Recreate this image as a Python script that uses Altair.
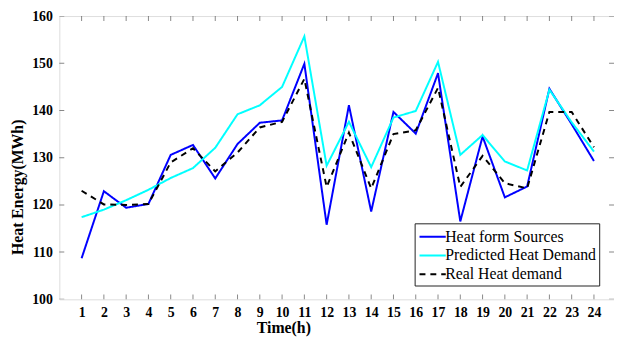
import altair as alt
import pandas as pd

hours = list(range(1, 25))
heat_sources = [108.7, 122.9, 119.4, 120.2, 130.6, 132.7, 125.6, 132.9, 137.4, 137.9, 149.9, 115.8,
                141.1, 118.6, 139.7, 135.1, 147.9, 116.5, 134.5, 121.6, 123.9, 144.6, 137.1, 129.3]
predicted = [117.4, 119.0, 121.0, 123.2, 125.7, 127.8, 132.1, 139.2, 141.1, 145.0, 155.7, 128.3,
             137.6, 128.0, 138.5, 139.9, 150.3, 130.6, 134.8, 129.2, 127.3, 144.4, 137.5, 131.3]
real = [123.0, 120.1, 120.0, 120.2, 129.0, 132.0, 127.1, 131.1, 136.4, 137.6, 146.7, 123.8,
        135.3, 123.5, 135.0, 135.8, 144.8, 123.8, 130.4, 124.6, 123.5, 139.7, 139.7, 132.2]
series_names = ["Heat form Sources", "Predicted Heat Demand", "Real Heat demand"]
y_ticks = [100, 110, 120, 130, 140, 150, 160]

rows = []
for name, vals in zip(series_names, [heat_sources, predicted, real]):
    for h, v in zip(hours, vals):
        rows.append({"series": name, "hour": h, "value": v})
df = pd.DataFrame(rows)

W, H = 562, 287
FONT = "Liberation Serif"

xscale = alt.Scale(domain=[0, 24.9], nice=False, zero=False)
yscale = alt.Scale(domain=[100, 160], nice=False, zero=False)

xaxis = alt.Axis(values=hours, title="Time(h)", ticks=False, domain=False, grid=False,
                 labelPadding=6, labelFontSize=14, labelFontWeight="bold", labelFont=FONT,
                 labelOverlap=False, labelColor="#000000", labelBound=False,
                 titleFont=FONT, titleFontSize=16, titleFontWeight="bold", titleColor="#000000",
                 titleX=227, titleY=34, titleBaseline="alphabetic", labelFlush=False)
yaxis = alt.Axis(values=y_ticks, title="Heat Energy(MWh)", ticks=False, domain=False, grid=False,
                 labelPadding=7, labelFontSize=14, labelFontWeight="bold", labelFont=FONT,
                 labelOverlap=False, labelColor="#000000",
                 titleFont=FONT, titleFontSize=16, titleFontWeight="bold", titleColor="#000000",
                 titleY=173, titleX=-37, titleAlign="center", titleBaseline="alphabetic",
                 labelFlush=False)

lines = alt.Chart(df).mark_line(strokeWidth=2).encode(
    x=alt.X("hour:Q", scale=xscale, axis=xaxis),
    y=alt.Y("value:Q", scale=yscale, axis=yaxis),
    color=alt.Color("series:N", scale=alt.Scale(domain=series_names, range=["#0000ff", "#00ffff", "#000000"]),
                    legend=alt.Legend(title=None, orient="none", legendX=360, legendY=210,
                                      symbolType="M-0.9,0H1.9", symbolStrokeWidth=2, symbolSize=361,
                                      labelFont=FONT, labelFontSize=16, labelLimit=300, labelColor="#000000",
                                      strokeColor="#222222", padding=3, rowPadding=0,
                                      fillColor="white", labelOffset=7)),
    strokeDash=alt.StrokeDash("series:N", scale=alt.Scale(domain=series_names, range=[[1, 0], [1, 0], [6, 5]]),
                              legend=None),
)

xt = pd.DataFrame({"hour": hours})
yt = pd.DataFrame({"value": y_ticks})
tick_color = "#555555"
ticks_bottom = alt.Chart(xt).mark_tick(clip=True, size=10, thickness=1, color=tick_color, orient="vertical").encode(
    x=alt.X("hour:Q", scale=xscale, axis=xaxis), y=alt.value(H))
ticks_top = alt.Chart(xt).mark_tick(clip=True, size=10, thickness=1, color=tick_color, orient="vertical").encode(
    x=alt.X("hour:Q", scale=xscale, axis=xaxis), y=alt.value(0))
ticks_left = alt.Chart(yt).mark_tick(clip=True, size=10, thickness=1, color=tick_color, orient="horizontal").encode(
    y=alt.Y("value:Q", scale=yscale, axis=yaxis), x=alt.value(0))
ticks_right = alt.Chart(yt).mark_tick(clip=True, size=10, thickness=1, color=tick_color, orient="horizontal").encode(
    y=alt.Y("value:Q", scale=yscale, axis=yaxis), x=alt.value(W))

chart = alt.layer(lines, ticks_bottom, ticks_top, ticks_left, ticks_right).properties(
    width=W, height=H,
    autosize=alt.AutoSizeParams(type="none"),
    padding={"left": 52, "top": 6, "right": 0, "bottom": 36},
).configure_view(stroke="#666666", strokeWidth=1).configure(background="white")

chart.save("out.html", embed_options={"renderer": "svg", "actions": False})
